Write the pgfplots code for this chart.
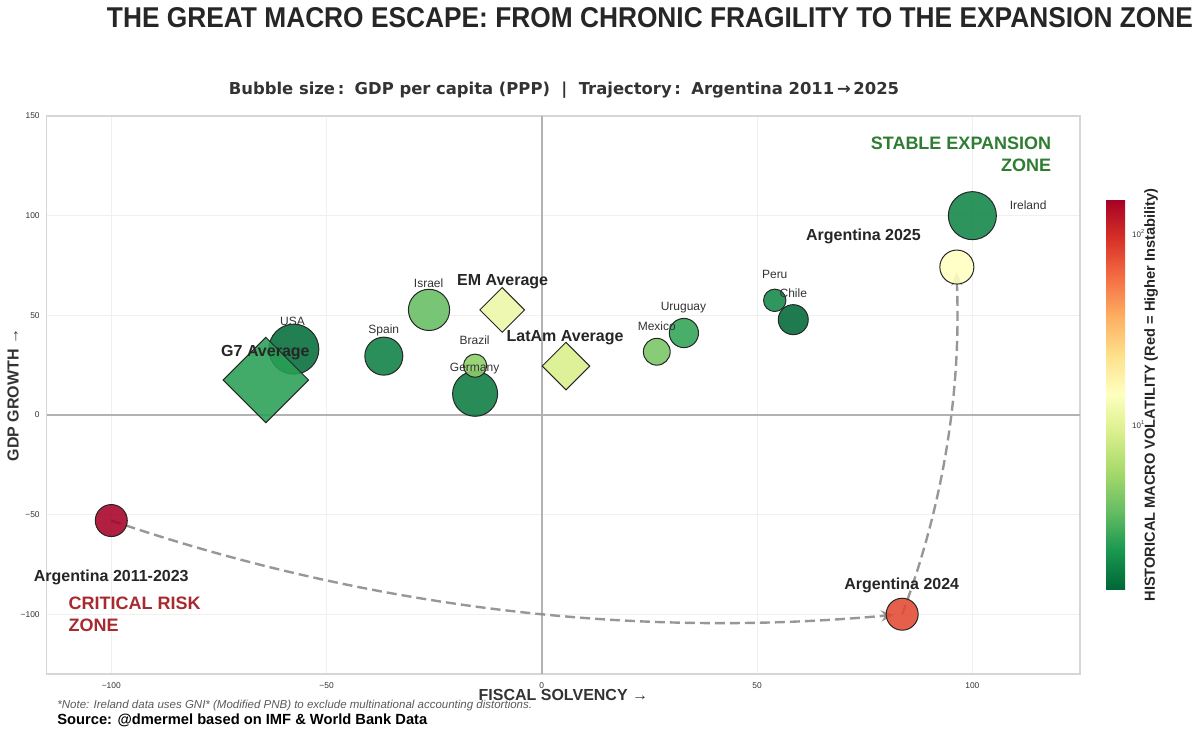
\documentclass[border=0pt]{standalone}
\usepackage{graphicx}
\usepackage{pgfplots}
\pgfplotsset{compat=1.18}
\usepackage{pgfplotstable}
\usepackage{fontspec}
\setmainfont{Liberation Sans}
\newfontfamily\dejavu{DejaVu Sans}
\usetikzlibrary{arrows.meta}

\definecolor{txt}{HTML}{262626}
\definecolor{lbl}{HTML}{333333}
\definecolor{zonegreen}{HTML}{2E7D32}
\definecolor{zonered}{RGB}{168,42,48}
\definecolor{trail}{HTML}{8C8C8C}

% name, fiscal solvency, growth, marker radius (pt), historical volatility
\pgfplotstableread{
name     x      y      r      vol
Ireland  100.0  100.0  12.0   1.83
USA      -57.6  33.0   12.5   1.45
Spain    -36.7  29.5   9.5    1.75
Israel   -26.2  52.7   10.3   3.54
Germany  -15.5  10.6   11.25  1.67
Brazil   -15.5  24.7   5.8    4.70
Mexico   26.7   31.7   6.7    4.08
Uruguay  33.0   41.1   7.3    2.55
Peru     54.1   57.5   5.6    1.92
Chile    58.4   47.8   7.5    1.38
}\countries

% group averages (half side of the diamond in pt)
\pgfplotstableread{
name    x      y     r     vol
G7      -64.1  17.5  15.1  2.43
EM      -9.2   52.7  7.9   11.5
LatAm   5.6    24.5  8.4   9.08
}\averages

% Argentina trajectory
\pgfplotstableread{
name     x      y       r     vol
Arg2011  -100.0 -53.0   8.0   152
Arg2024  83.7   -100.0  8.0   78.9
Arg2025  96.4   74.2    8.5   14.5
}\argentina

\begin{document}
\begin{tikzpicture}
\useasboundingbox (0,0) rectangle (600pt,367pt);

\begin{axis}[
  at={(23.35pt,30pt)}, anchor=south west,
  scale only axis, width=516.65pt, height=279pt,
  xmin=-115, xmax=125, ymin=-130, ymax=150,
  xtick={-100,-50,0,50,100}, xticklabels={−100,−50,0,50,100},
  ytick={-100,-50,0,50,100,150}, yticklabels={−100,−50,0,50,100,150},
  tick label style={font=\fontsize{4.2}{5}\selectfont, text=lbl},
  xticklabel style={yshift=-0.6pt},
  major tick length=0pt,
  grid=major, major grid style={draw=black!6, line width=0.4pt},
  axis line style={draw=black!16, line width=0.7pt},
  clip=false,
  colormap={rdylgnr}{rgb255=(0,104,55) rgb255=(26,152,80) rgb255=(102,189,99)
    rgb255=(166,217,106) rgb255=(217,239,139) rgb255=(255,255,191)
    rgb255=(254,224,139) rgb255=(253,174,97) rgb255=(244,109,67)
    rgb255=(215,48,39) rgb255=(165,0,38)},
  % log10 of the volatility range
  point meta min=0.141, point meta max=2.183,
  colorbar,
  colorbar style={
    at={(parent axis.north east)}, anchor=north west,
    xshift=4.5pt, yshift=-41.5pt,
    scale only axis, width=9.5pt, height=195pt,
    ytick={1,2}, yticklabels={10\textsuperscript{1},10\textsuperscript{2}},
    yticklabel style={font=\fontsize{4}{5}\selectfont, text=lbl},
    major tick length=0pt,
    axis line style={draw=none},
  },
  bubble/.style={scatter, only marks,
    point meta={log10(\thisrow{vol})},
    visualization depends on={\thisrow{r} \as \rad},
    scatter/use mapped color={draw=black!85, fill=mapped color},
    every mark/.append style={line width=0.5pt, fill opacity=0.88},
  },
]

% reference lines through the origin
\draw[black!30, line width=0.7pt] (axis cs:0,-130) -- (axis cs:0,150);
\draw[black!30, line width=0.7pt] (axis cs:-115,0) -- (axis cs:125,0);

% trajectory arrows
\draw[trail, opacity=0.9, line width=1.2pt, dash pattern=on 5pt off 2.5pt,
      -{Stealth[length=6.5pt,width=5.5pt]}]
  (axis cs:-100,-53) .. controls (axis cs:-40.4,-96.8) and (axis cs:20.8,-112.5) .. (axis cs:81.8,-100.3);
\draw[trail, opacity=0.9, line width=1.2pt, dash pattern=on 5pt off 2.5pt,
      -{Stealth[length=6.5pt,width=5.5pt]}]
  (axis cs:83.7,-100) .. controls (axis cs:93.3,-44.7) and (axis cs:97.5,12.4) .. (axis cs:96.3,71.5);

% countries
\addplot[bubble, mark=*,
  scatter/@pre marker code/.append style={/tikz/mark size=\rad}]
  table[x=x, y=y] {\countries};

% group averages as diamonds
\addplot[bubble, mark=square*,
  scatter/@pre marker code/.append style={/tikz/mark size=\rad, /tikz/rotate=45}]
  table[x=x, y=y] {\averages};

% Argentina
\addplot[bubble, mark=*,
  scatter/@pre marker code/.append style={/tikz/mark size=\rad}]
  table[x=x, y=y] {\argentina};

% anchor points for the labels, set once the marks are drawn
\coordinate (lUSA) at (axis cs:-57.9,47);
\coordinate (lSpain) at (axis cs:-36.7,42.5);
\coordinate (lIsrael) at (axis cs:-26.3,66);
\coordinate (lBrazil) at (axis cs:-15.6,37.5);
\coordinate (lGermany) at (axis cs:-15.6,23.5);
\coordinate (lMexico) at (axis cs:26.7,44.7);
\coordinate (lUruguay) at (axis cs:32.9,53.8);
\coordinate (lPeru) at (axis cs:54.1,70.7);
\coordinate (lChile) at (axis cs:58.4,61.2);
\coordinate (lIreland) at (axis cs:108.6,105);
\coordinate (lG7) at (axis cs:-64.2,31.5);
\coordinate (lEM) at (axis cs:-9.1,67);
\coordinate (lLatAm) at (axis cs:5.4,38.8);
\coordinate (lA25) at (axis cs:74.7,89.5);
\coordinate (lA24) at (axis cs:83.6,-85.5);
\coordinate (lA11) at (axis cs:-100,-81.5);
\coordinate (lStable) at (axis cs:118.4,130.8);
\coordinate (lRisk) at (axis cs:-110,-100);
\end{axis}

% country names
\begin{scope}[every node/.style={font=\fontsize{6}{7}\selectfont, text=lbl, inner sep=0pt}]
\node at (lUSA) {USA};
\node at (lSpain) {Spain};
\node at (lIsrael) {Israel};
\node at (lBrazil) {Brazil};
\node at (lGermany) {Germany};
\node at (lMexico) {Mexico};
\node at (lUruguay) {Uruguay};
\node at (lPeru) {Peru};
\node at (lChile) {Chile};
\node[anchor=west] at (lIreland) {Ireland};
\end{scope}

% highlighted labels
\begin{scope}[every node/.style={font=\bfseries\fontsize{8}{9}\selectfont, text=txt, inner sep=0pt}]
\node at (lG7) {G7 Average};
\node at (lEM) {EM Average};
\node at (lLatAm) {LatAm Average};
\node at (lA25) {Argentina 2025};
\node at (lA24) {Argentina 2024};
\node at (lA11) {Argentina 2011-2023};
\end{scope}

% zones
\node[anchor=east, align=right, font=\bfseries\fontsize{9}{10.6}\selectfont, text=zonegreen, inner sep=0pt]
  at (lStable) {STABLE EXPANSION\\ZONE};
\node[anchor=west, align=left, font=\bfseries\fontsize{9}{10.6}\selectfont, text=zonered, inner sep=0pt]
  at (lRisk) {CRITICAL RISK\\ZONE};

% titles and axis names
\node[text=txt, inner sep=0pt] at (325pt,358pt)
  {\resizebox{543pt}{10pt}{\bfseries\fontsize{14}{14}\selectfont THE GREAT MACRO ESCAPE: FROM CHRONIC FRAGILITY TO THE EXPANSION ZONE}};
\node[text=lbl, inner sep=0pt] at (282pt,322pt)
  {\dejavu\bfseries\fontsize{8.2}{10}\selectfont Bubble size\,:\, GDP per capita (PPP) \ | \ Trajectory\,:\, Argentina 2011\,→\,2025};
\node[text=lbl, inner sep=0pt, font=\bfseries\fontsize{8}{9}\selectfont] at (281.7pt,19.4pt) {FISCAL SOLVENCY →};
\node[text=lbl, inner sep=0pt, rotate=90, font=\bfseries\fontsize{8}{9}\selectfont] at (6.5pt,169.5pt) {GDP GROWTH →};
\node[text=txt, inner sep=0pt, rotate=90, font=\bfseries\fontsize{7.3}{8}\selectfont] at (575.5pt,169.5pt)
  {HISTORICAL MACRO VOLATILITY (Red = Higher Instability)};

% footnotes
\node[anchor=west, inner sep=0pt, text=black!65, font=\itshape\fontsize{5.75}{6.5}\selectfont] at (28.5pt,14pt)
  {*Note: Ireland data uses GNI* (Modified PNB) to exclude multinational accounting distortions.};
\node[anchor=west, inner sep=0pt, text=black, font=\bfseries\fontsize{7.35}{8}\selectfont] at (28.5pt,6.6pt)
  {Source: @dmermel based on IMF \& World Bank Data};
\end{tikzpicture}
\end{document}
